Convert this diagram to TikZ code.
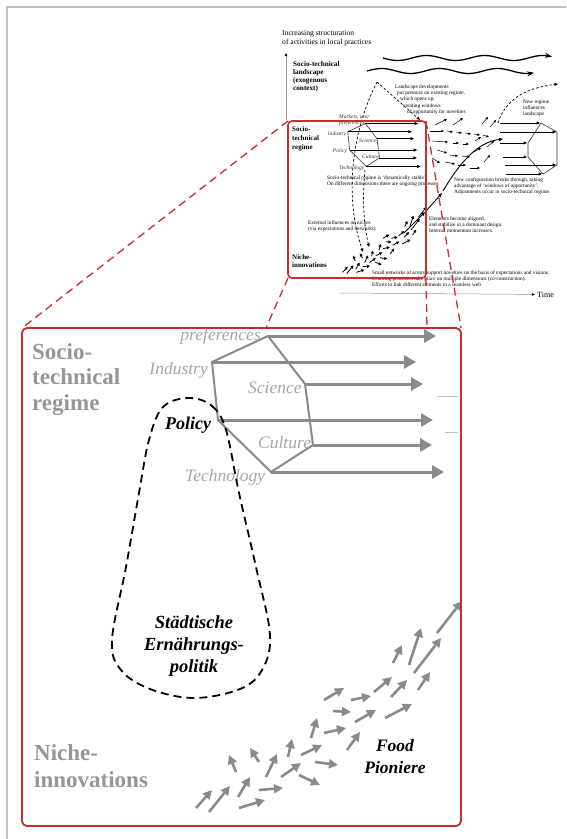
\documentclass[tikz,border=0pt]{standalone}
\usepackage{fontspec}
\setmainfont{Liberation Serif}
\usetikzlibrary{arrows.meta}

\definecolor{framegray}{RGB}{192,192,192}
\definecolor{zoomred}{RGB}{200,44,44}
\definecolor{regimegray}{RGB}{136,138,140}
\definecolor{headgray}{RGB}{150,150,150}
\definecolor{labelgray}{RGB}{165,165,165}
\definecolor{axisgray}{RGB}{150,150,150}

\tikzset{
  zoomline/.style={draw=zoomred, line width=1.3pt, dash pattern=on 8pt off 5pt},
  zoombox/.style={draw=zoomred, line width=1.6pt, rounded corners=4pt},
  bighex/.style={draw=regimegray, line width=2pt},
  bigarrow/.style={draw=regimegray, line width=3pt, -{Triangle[length=12pt,width=13pt]}},
  bigniche/.style={draw=regimegray, line width=2.6pt, -{Triangle[length=9pt,width=9pt]}},
  smallhex/.style={draw=black!80, line width=0.6pt},
  smallarrow/.style={draw=black, line width=0.7pt, -{Triangle[length=3.5pt,width=3pt]}},
  smallniche/.style={draw=black, line width=0.8pt, -{Triangle[length=3pt,width=3pt]}},
  fieldarrow/.style={draw=black, line width=0.5pt, -{Triangle[length=2.6pt,width=2.4pt]}},
  curvearrow/.style={draw=black, line width=0.9pt, -{Triangle[length=4pt,width=3.5pt]}},
  landdash/.style={draw=black, line width=0.7pt, dash pattern=on 2.5pt off 2pt, -{Triangle[length=3.5pt,width=3pt]}},
  wave/.style={draw=black, line width=1.3pt, -{Stealth[length=7pt,width=5pt]}},
  axis/.style={draw=axisgray, line width=0.5pt, -{Triangle[length=3pt,width=2.5pt,color=black]}},
  bulb/.style={draw=black, line width=1.8pt, dash pattern=on 8pt off 5pt},
  tinytext/.style={font=\fontsize{5.3}{6.4}\selectfont, align=left, inner sep=0pt, anchor=base west},
  hexsmall/.style={font=\fontsize{5.5}{5.8}\selectfont\itshape, text=black!80, inner sep=0pt},
  hexbig/.style={font=\fontsize{17.5}{20}\selectfont\itshape, text=labelgray, inner sep=0pt},
}

% hexagon of the regime with its arrows, in the coordinates of the large inset
\newcommand{\regimehex}[2]{%
  \draw[#1] (268,336) -- (212,362) -- (218,420) -- (271,472) -- (313,445) -- (305,384) -- cycle;
  \foreach \sx/\sy/\ex in {268/336/436, 212/362/416, 305/384/423, 218/420/433, 313/445/432, 271/472/444}
    \draw[#2] (\sx,\sy) -- (\ex,\sy);
}
% swarm of niche arrows, same coordinates
\newcommand{\nicheflow}[1]{%
  \foreach \ax/\ay/\bx/\by in {196/808/212/790, 209/812/230/786, 238/797/250/777, 239/808/265/800,
      259/790/283/788, 266/777/277/754, 236/772/229/755, 259/762/250/748, 281/777/301/763,
      288/757/292/739, 301/755/322/745, 299/775/320/785, 315/762/338/765, 311/738/317/718,
      324/733/346/728, 347/750/360/732, 324/700/344/688, 333/711/351/712, 351/700/371/696,
      355/722/376/710, 385/718/412/704, 374/692/392/677, 391/697/407/680, 418/690/430/672,
      393/663/402/645, 409/665/421/628, 414/673/441/638, 437/633/462/601}
    \draw[#1] (\ax,\ay) -- (\bx,\by);
}

\begin{document}
\begin{tikzpicture}[x=1pt, y=-1pt]
\useasboundingbox (0,0) rectangle (566,839);

% Frame
\draw[framegray, line width=1.3pt] (7,839) -- (7,7) -- (566,7);

% Box corners
\coordinate (smallnw) at (288,121);
\coordinate (smallne) at (426,121);
\coordinate (smallsw) at (288,278);
\coordinate (smallse) at (426,278);
\coordinate (bignw) at (22,328);
\coordinate (bigse) at (461,826);

% Axes (multi-line nodes sit on the baseline of their last line)
\node[anchor=base west, align=left, inner sep=0pt, font=\fontsize{7.6}{9}\selectfont] (axistext) at (282,44) {Increasing structuration\\of activities in local practices};
\coordinate (axistop) at (286,53);
\coordinate (axisfoot) at (286,120);
\draw[axis] (axisfoot) -- (axistop);
\node[anchor=base west, inner sep=0pt, font=\fontsize{8}{9}\selectfont] (time) at (537,297) {Time};
\coordinate (timestart) at (340,293);
\draw[axis] (timestart) -- ([xshift=-2pt]time.west);

% Landscape
\node[anchor=base west, align=left, inner sep=0pt, font=\fontsize{7.2}{8.1}\selectfont\bfseries] (landscape) at (293,90.3) {Socio-technical\\landscape\\(exogenous\\context)};
\draw[wave] plot[domain=383:552, samples=80] (\x,{58+2.5*sin((\x-383)*6.2)});
\draw[wave] plot[domain=367:534, samples=80] (\x,{71-2.5*sin((\x-367)*6.2)});

\node[tinytext] (pressure) at (395,113.6) {Landscape developments\\\hspace*{2pt}put pressure on existing regime,\\\hspace*{5pt}which opens up,\\\hspace*{8pt}creating windows\\\hspace*{12pt}of opportunity for novelties};
\node[tinytext] (newregime) at (523,115.8) {New regime\\influences\\landscape};

\draw[landdash] (377,82) -- (420,120);
\draw[landdash] (377,82) .. controls (350,135) and (345,200) .. (363,252);
\draw[landdash] (365,170) .. controls (362,200) and (364,225) .. (369,247);
\draw[landdash] (498,123) .. controls (505,100) and (525,88) .. (558,84);

% Small regime and niches
\node[anchor=base west, align=left, inner sep=0pt, font=\fontsize{7}{9}\selectfont\bfseries] (regimesmall) at (292,149) {Socio-\\technical\\regime};
\node[anchor=base west, align=left, inner sep=0pt, font=\fontsize{7}{8.5}\selectfont\bfseries] (nichesmall) at (292,267.5) {Niche-\\innovations};

\begin{scope}[shift={(281.08,17.58)}, xscale=0.3144, yscale=0.3153]
  \regimehex{smallhex}{smallarrow}
  \nicheflow{smallniche}
\end{scope}

\node[hexsmall, anchor=base west, align=left] (markets) at (339,124.3) {Markets, user\\preferences};
\node[hexsmall, anchor=base east] (industrysmall) at (346.5,135.5) {Industry};
\node[hexsmall, anchor=base west] (sciencesmall) at (359,142.3) {Science};
\node[hexsmall, anchor=base] (policysmall) at (340,152.8) {Policy};
\node[hexsmall, anchor=base west] (culturesmall) at (362,158.8) {Culture};
\node[hexsmall, anchor=base west] (technologysmall) at (339,169) {Technology};

\node[tinytext] (stable) at (327,185.4) {Socio-technical regime is `dynamically stable'.\\On different dimensions there are ongoing processes};
\node[tinytext] (external) at (308,230.4) {External influences on niches\\(via expectations and networks)};
\node[tinytext] (aligned) at (429,232.8) {Elements become aligned,\\and stabilise in a dominant design.\\Internal momentum increases.};
\node[tinytext] (breakthrough) at (454,193.8) {New configuration breaks through, taking\\advantage of `windows of opportunity'.\\Adjustments occur in socio-technical regime.};
\node[tinytext] (networks) at (372,286.8) {Small networks of actors support novelties on the basis of expectations and visions.\\Learning processes take place on multiple dimensions (co-construction).\\Efforts to link different elements in a seamless web};

% Windows of opportunity
\foreach \ax/\ay/\bx/\by in {435/125/447/119, 453/125/463/118, 482/124/488/117, 490/127/496/120,
    430/131/444/131, 447/131/453/132, 456/132/462/133, 465/133/471/134, 474/134/480/135, 483/135/489/137,
    432/141/448/142, 453/143/459/143, 463/144/469/144, 475/141/481/137,
    437/150/447/153, 450/155/458/156, 462/156/470/157, 474/152/481/148,
    432/158/440/163, 445/162/455/164, 458/165/466/165, 470/168/480/168, 484/162/490/155, 487/147/494/141}
  \draw[fieldarrow] (\ax,\ay) -- (\bx,\by);

% Breakthrough
\draw[curvearrow] (404,233) -- (425,212);
\draw[curvearrow] (427,210) -- (442,193);
\draw[curvearrow] (443,191) .. controls (460,162) and (478,142) .. (503,139);

% New regime
\draw[smallhex] (541,123) -- (557,132) -- (557,165) -- (543,174) -- (528,157) -- (528,143) -- cycle;
\foreach \sx/\sy/\ex in {500/123/540, 500/132/556, 500/143/527, 503/157/527, 505/165/556, 506/174/542}
  \draw[smallarrow] (\sx,\sy) -- (\ex,\sy);

\draw[zoombox] (smallnw) rectangle (smallse);

% Zoom lines
\draw[zoomline] (smallnw) -- (bignw);
\draw[zoomline] (smallsw) -- (266,328);
\draw[zoomline] (smallse) -- (427,328);
\draw[zoomline] (smallne) -- (bigse |- bignw);

% Large inset
\begin{scope}
  \clip[rounded corners=5pt] (bignw) rectangle (bigse);
  \regimehex{bighex}{bigarrow}
  \draw[framegray, line width=1pt] (437,396) -- (458,396) (445,432) -- (458,432);
  \nicheflow{bigniche}
  \node[hexbig, anchor=base east] (preferences) at (261,340) {preferences};
  \node[hexbig, anchor=base east] (industry) at (208,374) {Industry};
  \node[hexbig, anchor=base west] (science) at (248,393) {Science};
  \node[hexbig, anchor=base west] (culture) at (258,448) {Culture};
  \node[hexbig, anchor=base west] (technology) at (185,481) {Technology};
  \draw[bulb] plot[smooth cycle, tension=0.6] coordinates {(189,398) (212,406) (226,430) (239,493) (256,567) (270,635) (262,670) (240,689) (194,698) (150,689) (121,670) (112,640) (126,567) (139,493) (149,440) (163,407)};
\end{scope}
\draw[zoombox, rounded corners=5pt, line width=1.8pt] (bignw) rectangle (bigse);

\node[anchor=base west, align=left, inner sep=0pt, text=headgray, font=\fontsize{23}{25.5}\selectfont\bfseries] (regimebig) at (32,410) {Socio-\\technical\\regime};
\node[anchor=base west, align=left, inner sep=0pt, text=headgray, font=\fontsize{23}{27}\selectfont\bfseries] (nichebig) at (34,787) {Niche-\\innovations};

\node[anchor=base, inner sep=0pt, font=\fontsize{18}{20}\selectfont\bfseries\itshape] (policy) at (188,429) {Policy};
\node[anchor=base, align=center, inner sep=0pt, font=\fontsize{18.5}{22}\selectfont\bfseries\itshape] (foodpolicy) at (194,672) {Städtische\\Ernährungs-\\politik};
\node[anchor=base, align=center, inner sep=0pt, font=\fontsize{17.5}{22}\selectfont\bfseries\itshape] (foodpioneers) at (395,773) {Food\\Pioniere};

\end{tikzpicture}
\end{document}
